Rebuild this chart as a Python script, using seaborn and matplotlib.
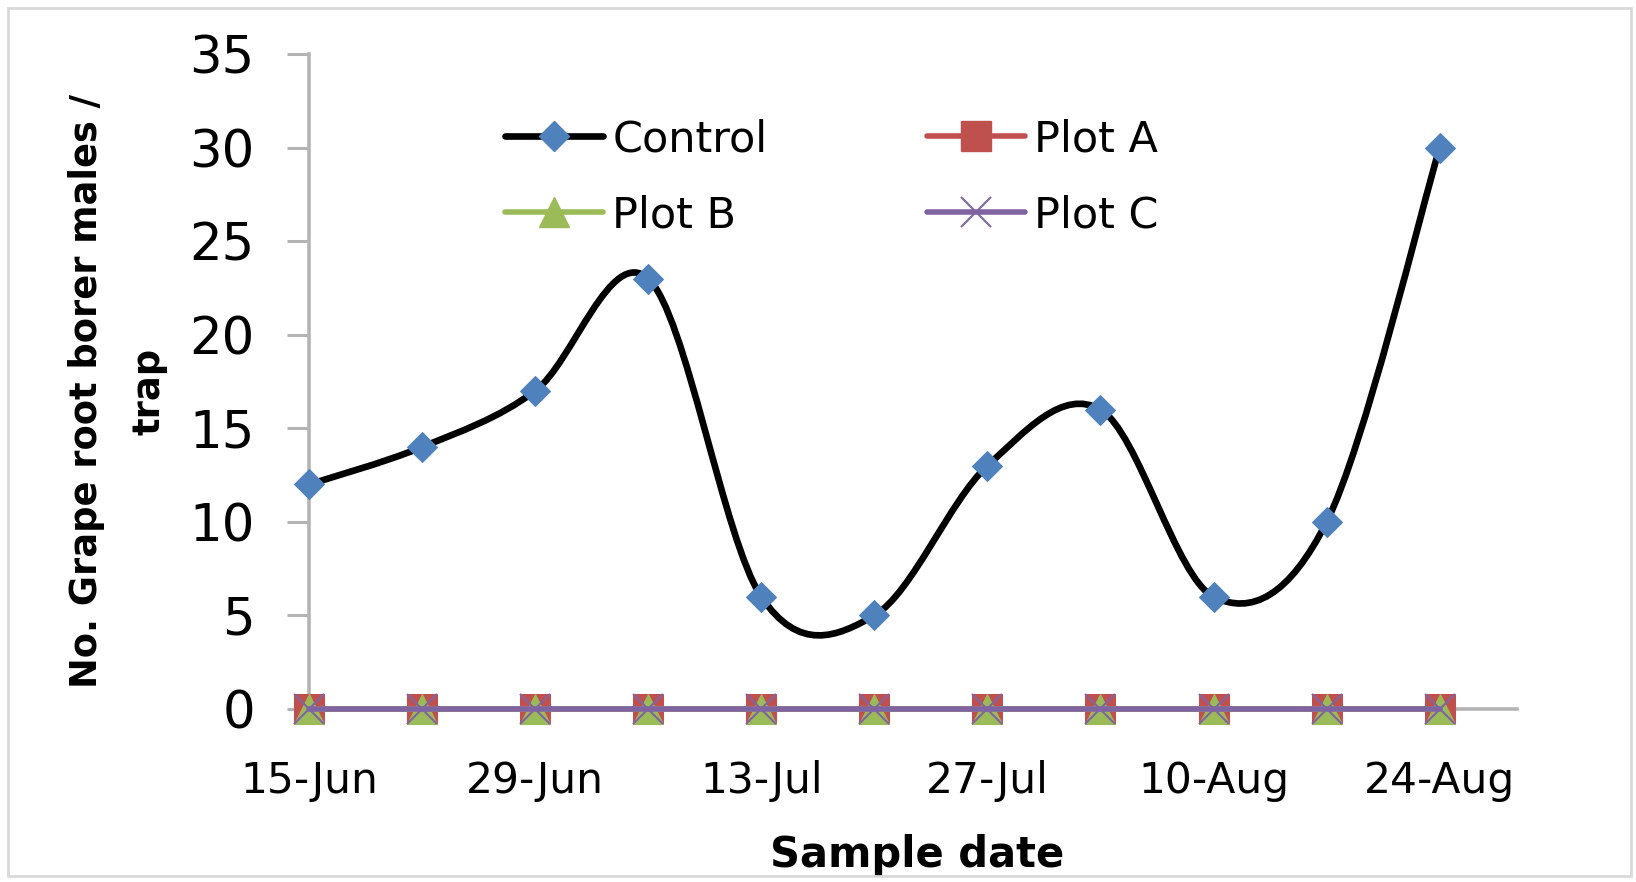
import matplotlib
matplotlib.use("Agg")
import matplotlib.pyplot as plt
from matplotlib.path import Path
from matplotlib.patches import PathPatch, Rectangle
from matplotlib.lines import Line2D
import seaborn as sns
import numpy as np
import pandas as pd

# data
sample_dates = ["15-Jun", "22-Jun", "29-Jun", "6-Jul", "13-Jul", "20-Jul",
                "27-Jul", "3-Aug", "10-Aug", "17-Aug", "24-Aug"]
control = [12, 14, 17, 23, 6, 5, 13, 16, 6, 10, 30]
plot_a = [0, 0, 0, 0, 0, 0, 0, 0, 0, 0, 0]
plot_b = [0, 0, 0, 0, 0, 0, 0, 0, 0, 0, 0]
plot_c = [0, 0, 0, 0, 0, 0, 0, 0, 0, 0, 0]
tick_labels = ["15-Jun", "29-Jun", "13-Jul", "27-Jul", "10-Aug", "24-Aug"]


def smooth_path(x, y):
    """Excel style smoothed line: bezier segments with catmull-rom handles"""
    pts = np.column_stack([x, y]).astype(float)
    n = len(pts)
    verts = [pts[0]]
    codes = [Path.MOVETO]
    for i in range(n - 1):
        p0 = pts[i - 1] if i > 0 else pts[i]
        p1 = pts[i]
        p2 = pts[i + 1]
        p3 = pts[i + 2] if i + 2 < n else pts[i + 1]
        verts += [p1 + (p2 - p0) / 6, p2 - (p3 - p1) / 6, p2]
        codes += [Path.CURVE4] * 3
    return Path(verts, codes)


dates = pd.to_datetime(sample_dates, format="%d-%b")
days = np.array((dates - dates[0]).days)
tick_days = np.array((pd.to_datetime(tick_labels, format="%d-%b") - dates[0]).days)

df = pd.DataFrame({"day": days, "Control": control, "Plot A": plot_a,
                   "Plot B": plot_b, "Plot C": plot_c})

sns.set_theme(style="white")
plt.rcParams["font.family"] = ["DejaVu Sans"]
plt.rcParams["text.color"] = "black"
plt.rcParams["axes.labelcolor"] = "black"

fig = plt.figure(figsize=(16.36, 8.82), dpi=100)
fig.patches.append(Rectangle((0.005, 0.007), 0.992, 0.984, transform=fig.transFigure,
                             fill=False, edgecolor="#d9d9d9", linewidth=2))
ax = fig.add_axes([0.1889, 0.1961, 0.7385, 0.7426])

blue, red, green, purple = "#4F81BD", "#C0504D", "#9BBB59", "#8064A2"
axis_grey = "#b4b4b4"

ax.add_patch(PathPatch(smooth_path(df["day"], df["Control"]), facecolor="none",
                       edgecolor="black", linewidth=4.8, capstyle="round", zorder=3))
sns.lineplot(data=df, x="day", y="Control", ax=ax, linestyle="", marker="D",
             markersize=15, color=blue, markeredgecolor=blue, clip_on=False, zorder=4)
sns.lineplot(data=df, x="day", y="Plot A", ax=ax, color=red, linewidth=4, marker="s",
             markersize=21, markeredgecolor=red, clip_on=False, zorder=5)
sns.lineplot(data=df, x="day", y="Plot B", ax=ax, color=green, linewidth=4, marker="^",
             markersize=21, markeredgecolor=green, clip_on=False, zorder=6)
sns.lineplot(data=df, x="day", y="Plot C", ax=ax, color=purple, linewidth=4, marker="x",
             markersize=21, markeredgewidth=1.5, markeredgecolor=purple, clip_on=False,
             zorder=7)

ax.set_xlim(0, 74.8)
ax.set_ylim(0, 35)
ax.set_yticks(range(0, 36, 5))
ax.set_xticks(tick_days)
ax.set_xticklabels(tick_labels)

for side in ["top", "right"]:
    ax.spines[side].set_visible(False)
for side in ["left", "bottom"]:
    ax.spines[side].set_color(axis_grey)
    ax.spines[side].set_linewidth(2.6)
    ax.spines[side].set_zorder(1)

ax.tick_params(axis="y", left=True, length=16, width=2.2, color=axis_grey,
               pad=23, labelsize=37, labelcolor="black")
ax.tick_params(axis="x", bottom=False, length=0, pad=37, labelsize=30.5,
               labelcolor="black")

ax.set_xlabel("Sample date", fontsize=30, fontweight="bold")
ax.xaxis.set_label_coords(0.503, -0.191)
ax.set_ylabel("No. Grape root borer males /\ntrap", fontsize=26.5, fontweight="bold",
              linespacing=1.9)
ax.yaxis.set_label_coords(-0.117, 0.4855)

handles = [
    Line2D([], [], color="black", lw=4.8, marker="D", ms=15, mfc=blue, mec=blue),
    Line2D([], [], color=green, lw=4, marker="^", ms=21, mfc=green, mec=green),
    Line2D([], [], color=red, lw=4, marker="s", ms=21, mfc=red, mec=red),
    Line2D([], [], color=purple, lw=4, marker="x", ms=21, mew=1.5, mec=purple),
]
ax.legend(handles, ["Control", "Plot B", "Plot A", "Plot C"], ncol=2, frameon=False,
          loc="upper left", bbox_to_anchor=(505 / 1636, 1 - 118 / 882),
          bbox_transform=fig.transFigure, fontsize=31, borderpad=0, borderaxespad=0,
          handlelength=2.28, handletextpad=0.21, labelspacing=0.79, columnspacing=3.7)

plt.savefig("out.png", dpi=100)
plt.close()
